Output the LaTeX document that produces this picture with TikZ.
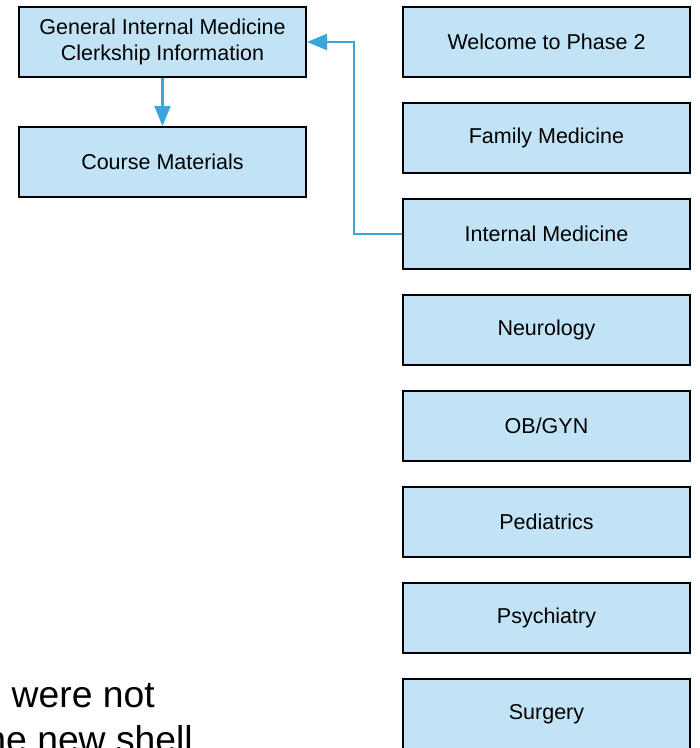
\documentclass[tikz,border=0pt]{standalone}
\usepackage{fontspec}
\setmainfont{Liberation Sans}
\usetikzlibrary{positioning,arrows.meta}
\definecolor{cBox}{RGB}{194,227,245}
\definecolor{cLink}{RGB}{58,166,221}
\tikzset{mybox/.style={
  shape=rectangle,
  draw=black,
  fill=cBox,
  line width=2pt,
  minimum width=287pt,
  minimum height=70pt,
  align=center,
  font=\fontsize{21.5}{26.5}\selectfont,
  text = black,
  }
}
\tikzset{mylink/.style={
  draw=cLink,
  line width=2.2pt,
  -{Triangle[length=20pt,width=16pt]},
  }
}

\begin{document}
\begin{tikzpicture}[x=1pt,y=-1pt,node distance=24pt]
      \useasboundingbox (0,0) rectangle (700,748);
      \clip (0,0) rectangle (700,748);
      % left column
      \node [mybox] (l1) at (162.5,42) {General Internal Medicine\\Clerkship Information};
      \node [mybox, below =48pt of l1] (l2) {Course Materials};
      % right column
      \node [mybox] (r1) at (546.5,42) {Welcome to Phase 2};
      \node [mybox, below =of r1] (r2) {Family Medicine};
      \node [mybox, below =of r2] (r3) {Internal Medicine};
      \node [mybox, below =of r3] (r4) {Neurology};
      \node [mybox, below =of r4] (r5) {OB/GYN};
      \node [mybox, below =of r5] (r6) {Pediatrics};
      \node [mybox, below =of r6] (r7) {Psychiatry};
      \node [mybox, below =of r7] (r8) {Surgery};

      \draw [mylink] (l1.south) -- (l2.north);
      \draw [mylink] (r3.west) -- ++(-48,0) |- (l1.east);

      % cut text at the bottom left
      \node [anchor=base east, inner sep=0pt, font=\fontsize{37.3}{45}\selectfont] (t1) at (155,707) {were not};
      \node [anchor=base east, inner sep=0pt, font=\fontsize{37.3}{45}\selectfont] (t2) at (193,752) {the new shell};
\end{tikzpicture}
\end{document}
